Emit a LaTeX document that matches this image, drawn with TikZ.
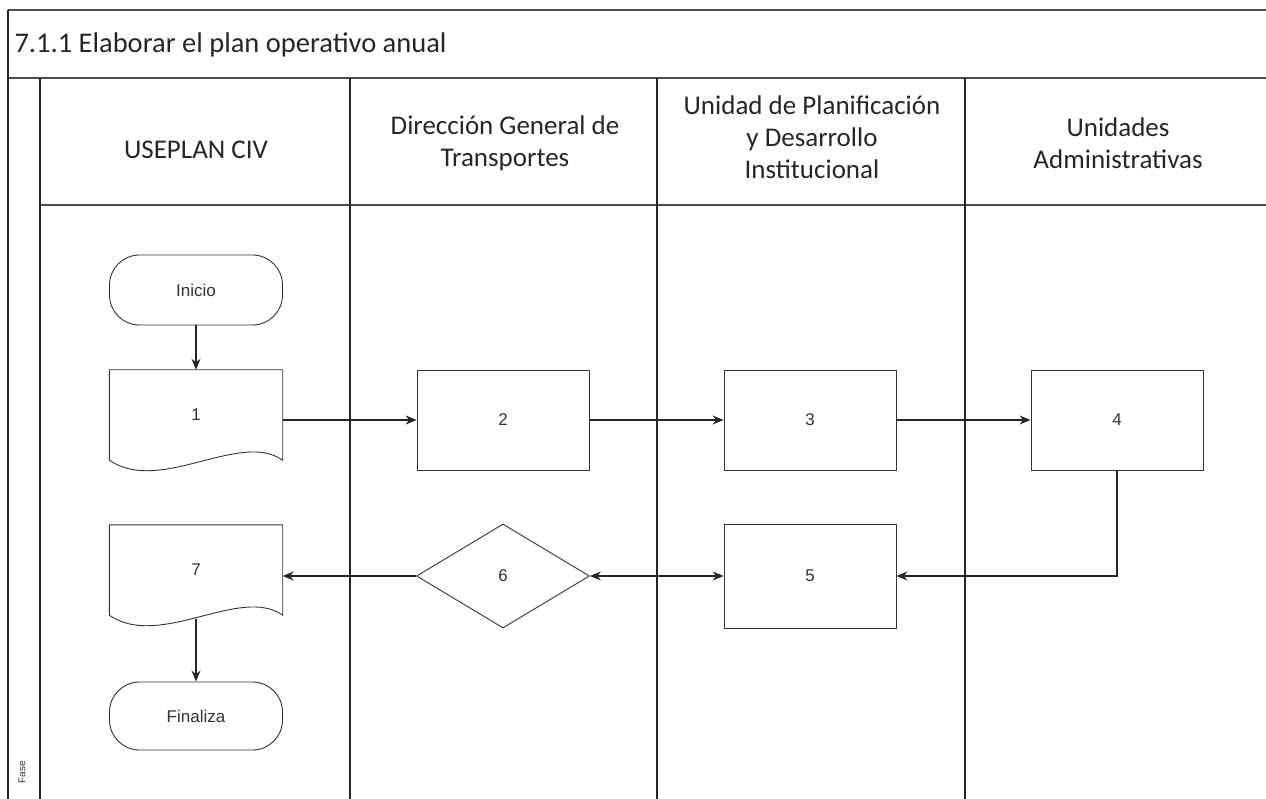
\documentclass[tikz,border=0pt]{standalone}
\usepackage{fontspec}
\setmainfont{Carlito}
\newfontfamily\nodefont{Liberation Sans}
\usetikzlibrary{shapes.geometric,arrows.meta}
\begin{document}
\begin{tikzpicture}[x=1pt,y=-1pt,
  frame/.style={line width=1.3pt,draw=black!85},
  hline/.style={line width=1.1pt,draw=black!70},
  shapeline/.style={line width=0.9pt,draw=black!80},
  nfont/.style={font=\nodefont\fontsize{17}{20}\selectfont,text=black!80},
  proc/.style={shapeline,rectangle,minimum width=172pt,minimum height=100pt,inner sep=0pt,nfont},
  docnode/.style={rectangle,minimum width=173pt,minimum height=90pt,inner sep=0pt,nfont},
  term/.style={shapeline,rectangle,rounded corners=30pt,minimum width=173pt,minimum height=70pt,inner sep=0pt,nfont},
  decis/.style={shapeline,diamond,minimum width=173pt,minimum height=104pt,inner sep=0pt,nfont},
  flow/.style={line width=1.1pt,draw=black!85,-{Stealth[length=11pt,width=9pt]}},
  head/.style={align=center,font=\fontsize{27}{32}\selectfont,text=black!85}
]
\useasboundingbox (0,0) rectangle (1266,799);
% frame
\draw[hline] (8,10) -- (1266,10);
\draw[hline] (8,78) -- (1266,78);
\draw[hline] (40,205) -- (1266,205);
\draw[frame] (8,10) -- (8,799);
\draw[frame] (40,78) -- (40,799);
\draw[frame] (350,78) -- (350,799);
\draw[frame] (657,78) -- (657,799);
\draw[frame] (965,78) -- (965,799);
% title
\node[anchor=west,font=\fontsize{28.5}{32}\selectfont,text=black!85] (title) at (11,45) {7.1.1 Elaborar el plan operativo anual};
% headers
\node[head] (h1) at (196,150) {USEPLAN CIV};
\node[head] (h2) at (505,143) {Dirección General de\\Transportes};
\node[head] (h3) at (812,137) {Unidad de Planificación\\y Desarrollo\\Institucional};
\node[head] (h4) at (1118,143) {Unidades\\Administrativas};
% Fase
\node[rotate=90,font=\nodefont\fontsize{10}{12}\selectfont,text=black!80] (fase) at (22,772) {Fase};
% nodes
\node[term] (ini) at (196,290) {Inicio};
\node[docnode] (n1) at (196,415) {1};
\draw[shapeline] (n1.south west) -- (n1.north west) -- (n1.north east) -- (n1.south east)
  .. controls (240,430) and (160,495) .. (n1.south west);
\node[proc] (n2) at (503,420) {2};
\node[proc] (n3) at (810,420) {3};
\node[proc] (n4) at (1117,420) {4};
\node[proc,minimum height=104pt] (n5) at (810,576) {5};
\node[decis] (n6) at (503,576) {6};
\node[docnode] (n7) at (196,570) {7};
\draw[shapeline] (n7.south west) -- (n7.north west) -- (n7.north east) -- (n7.south east)
  .. controls (240,585) and (160,650) .. (n7.south west);
\coordinate (c7) at (196,619);
\node[term,minimum height=68pt] (fin) at (196,716) {Finaliza};
% connectors
\draw[flow] (ini) -- (n1);
\draw[flow] (n1.east |- n2.west) -- (n2.west);
\draw[flow] (n2) -- (n3);
\draw[flow] (n3) -- (n4);
\draw[flow] (n4.south) |- (n5.east);
\draw[flow,{Stealth[length=11pt,width=9pt]}-{Stealth[length=11pt,width=9pt]}] (n6.east) -- (n5.west);
\draw[flow] (n6.west) -- (n6.west -| n7.east);
\draw[flow] (c7) -- (fin.north);
\end{tikzpicture}
\end{document}
